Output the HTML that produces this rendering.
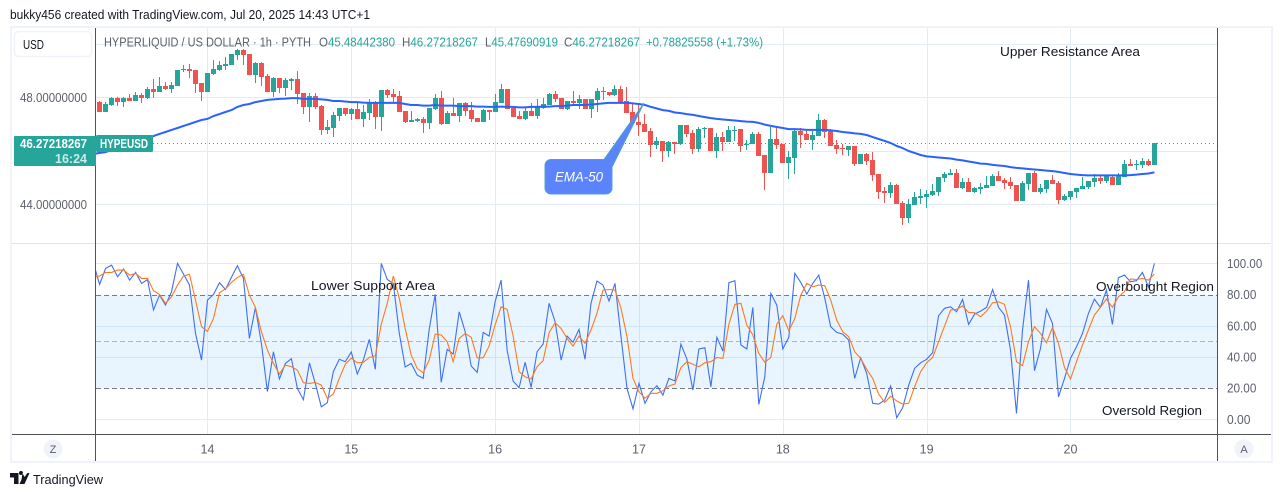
<!DOCTYPE html>
<html lang="en">
<head>
<meta charset="utf-8">
<title>HYPEUSD chart</title>
<style>
html,body{margin:0;padding:0;background:#fff;width:1281px;height:497px;overflow:hidden}
svg{display:block}
text{font-family:"Liberation Sans","DejaVu Sans",sans-serif}
</style>
</head>
<body>
<svg id="chart" xmlns="http://www.w3.org/2000/svg" width="1281" height="497" viewBox="0 0 1281 497">
  <defs>
    <clipPath id="top-clip"><rect x="96" y="28" width="1121" height="215"/></clipPath>
    <clipPath id="bottom-clip"><rect x="96" y="244" width="1121" height="190"/></clipPath>
  </defs>
  <text x="10" y="19" font-size="13" fill="#131722" textLength="360" lengthAdjust="spacingAndGlyphs">bukky456 created with TradingView.com, Jul 20, 2025 14:43 UTC+1</text>
  <rect x="11" y="27" width="1261" height="435" fill="#fff" stroke="#f0f3fa" stroke-width="2"/>
  <g id="grid"></g>
  <rect id="band" fill="#2196f3" fill-opacity="0.1"/>
  <g id="levels"></g>
  <g id="candles" clip-path="url(#top-clip)"></g>
  <path id="ema-line" fill="none" stroke="#2962ff" stroke-width="2" stroke-linejoin="round" clip-path="url(#top-clip)"/>
  <path id="k-line" fill="none" stroke="#3f70f5" stroke-width="1.1" clip-path="url(#bottom-clip)"/>
  <path id="d-line" fill="none" stroke="#ff7a1a" stroke-width="1.1" clip-path="url(#bottom-clip)"/>
  <line id="last-line" x1="153" x2="1217" stroke="#26a69a" stroke-width="1" stroke-dasharray="1 3"/>

  <line x1="12" x2="1271" y1="243.5" y2="243.5" fill="none" stroke="#e0e3eb"/>
  <line x1="12" x2="1271" y1="434.5" y2="434.5" stroke="#50535e"/>
  <line x1="95.5" x2="95.5" y1="28" y2="461" stroke="#50535e"/>
  <line x1="1217.5" x2="1217.5" y1="28" y2="461" stroke="#50535e"/>

  <g id="price-labels"></g>
  <g id="stoch-labels"></g>
  <g id="day-labels"></g>

  <g>
    <rect x="14.5" y="31.5" width="77" height="25" rx="4" fill="#fff" stroke="#f0f3fa" stroke-width="1.5"/>
    <text x="23" y="49" font-size="12.5" fill="#131722" textLength="21" lengthAdjust="spacingAndGlyphs">USD</text>
  </g>

  <g font-size="13">
    <text x="104" y="46.5" fill="#5d606b" textLength="207" lengthAdjust="spacingAndGlyphs">HYPERLIQUID / US DOLLAR · 1h · PYTH</text>
    <text x="319" y="46.5" fill="#5d606b" textLength="76" lengthAdjust="spacingAndGlyphs">O<tspan fill="#26a69a">45.48442380</tspan></text>
    <text x="402" y="46.5" fill="#5d606b" textLength="76" lengthAdjust="spacingAndGlyphs">H<tspan fill="#26a69a">46.27218267</tspan></text>
    <text x="485" y="46.5" fill="#5d606b" textLength="73" lengthAdjust="spacingAndGlyphs">L<tspan fill="#26a69a">45.47690919</tspan></text>
    <text x="564" y="46.5" fill="#5d606b" textLength="76" lengthAdjust="spacingAndGlyphs">C<tspan fill="#26a69a">46.27218267</tspan></text>
    <text x="646" y="46.5" fill="#26a69a" textLength="117" lengthAdjust="spacingAndGlyphs">+0.78825558 (+1.73%)</text>
  </g>

  <g>
    <rect x="14" y="136" width="82" height="30" rx="1" fill="#26a69a"/>
    <text x="87" y="148" font-size="12.5" font-weight="bold" fill="#fff" text-anchor="end" textLength="67" lengthAdjust="spacingAndGlyphs">46.27218267</text>
    <text x="87" y="163" font-size="12.5" font-weight="bold" fill="#c9ece8" text-anchor="end">16:24</text>
  </g>
  <g>
    <rect x="96" y="135" width="57" height="17" rx="1.5" fill="#26a69a"/>
    <text x="100" y="148" font-size="12.5" font-weight="bold" fill="#fff" textLength="48" lengthAdjust="spacingAndGlyphs">HYPEUSD</text>
  </g>

  <g>
    <path d="M551 159.5H604L644 103L612 167V188a6 6 0 0 1-6 6H551a6 6 0 0 1-6-6V165.5a6 6 0 0 1 6-6Z" fill="#5b83fb" stroke="#4ca3c4" stroke-width="1"/>
    <text x="579" y="181.5" font-size="14" font-style="italic" fill="#fff" text-anchor="middle" textLength="48" lengthAdjust="spacingAndGlyphs">EMA-50</text>
  </g>

  <g font-size="13" fill="#131722">
    <text x="1000" y="56" textLength="140" lengthAdjust="spacingAndGlyphs">Upper Resistance Area</text>
    <text x="311" y="290" textLength="124" lengthAdjust="spacingAndGlyphs">Lower Support Area</text>
    <text x="1096" y="291" textLength="118" lengthAdjust="spacingAndGlyphs">Overbought Region</text>
    <text x="1102" y="415" textLength="100" lengthAdjust="spacingAndGlyphs">Oversold Region</text>
  </g>

  <g>
    <circle cx="53" cy="449" r="9.5" fill="#f0f3fa"/>
    <text x="53" y="453" font-size="11" fill="#5d606b" text-anchor="middle">Z</text>
  </g>
  <g>
    <circle cx="1244" cy="449" r="9.5" fill="#f0f3fa"/>
    <text x="1244" y="453" font-size="11" fill="#5d606b" text-anchor="middle">A</text>
  </g>

  <g>
    <path d="M10 473H18.5V484H14V477.5H10ZM22.5 473L24.5 477L27.5 473H29.5L24.5 484H19.5L21.5 479.5ZM19 473a2 2 0 1 0 4 0a2 2 0 1 0-4 0Z" fill="#131722"/>
    <text x="33" y="484" font-size="13" fill="#131722" textLength="70" lengthAdjust="spacingAndGlyphs">TradingView</text>
  </g>
</svg>
<script>
// Candles, one per hour
const opens = [47.81,47.44,47.70,47.96,47.81,47.96,47.85,48.07,47.96,48.30,
48.19,48.41,48.30,48.41,49.01,49.05,49.01,48.52,48.19,48.86,
49.01,49.16,49.20,49.57,49.76,49.61,48.82,49.27,48.79,48.19,
48.71,48.34,48.60,48.67,48.15,47.63,48.04,47.66,46.77,46.84,
47.29,47.59,47.36,47.55,47.18,47.40,47.78,47.25,48.26,48.11,
48.04,47.48,47.07,47.10,47.18,47.03,47.55,47.96,46.99,47.40,
47.29,47.78,47.51,47.21,47.07,47.51,47.44,47.78,48.30,47.59,
47.29,47.18,47.48,47.29,47.59,47.70,48.11,47.96,47.55,47.85,
47.78,47.93,47.55,47.89,48.22,48.19,48.07,48.30,47.85,47.44,
47.07,46.99,46.73,46.21,46.36,45.98,46.32,46.24,46.95,46.65,
46.06,46.80,46.84,45.98,46.50,46.32,46.73,46.80,46.21,46.24,
46.62,45.83,45.16,46.43,46.24,45.53,45.72,46.73,46.62,46.39,
46.54,47.14,46.73,46.21,46.09,46.02,46.17,45.50,45.87,45.64,
45.12,44.49,44.41,44.71,44.04,43.48,43.96,44.22,44.26,44.34,
44.45,44.97,45.08,45.16,44.60,44.82,44.45,44.56,44.60,44.67,
45.05,44.90,44.82,44.71,44.11,44.75,45.16,44.45,44.56,44.90,
44.79,44.15,44.26,44.45,44.56,44.64,44.82,44.97,44.86,45.01,
44.71,45.01,45.50,45.46,45.46,45.61,45.46];
const highs = [47.85,47.81,48.00,48.00,48.00,48.11,48.19,48.15,48.37,48.67,
48.75,48.56,48.56,49.01,49.20,49.23,49.01,48.52,48.90,49.38,
49.35,49.50,49.61,49.79,49.79,49.61,49.31,49.31,48.86,48.75,
48.71,48.71,48.71,48.97,48.15,48.15,48.15,47.70,47.14,47.44,
47.59,47.59,47.59,47.78,47.70,47.93,47.85,48.26,48.30,48.30,
48.22,47.48,47.48,47.21,47.25,47.59,48.11,48.22,47.48,47.96,
47.78,47.81,47.81,47.21,47.55,47.51,48.11,48.49,48.30,47.66,
47.48,47.59,47.78,47.93,47.96,48.15,48.22,47.96,47.85,48.22,
48.07,47.93,47.93,48.34,48.37,48.19,48.45,48.41,48.37,47.78,
47.78,47.36,46.84,46.50,46.36,46.36,46.32,46.95,46.95,46.77,
46.88,46.88,46.84,46.65,46.69,46.92,46.92,46.80,46.39,46.69,
46.69,45.83,46.88,46.84,46.24,45.98,46.77,46.84,46.73,46.73,
47.36,47.18,46.80,46.39,46.24,46.17,46.17,45.87,45.91,45.94,
45.12,44.64,44.82,44.75,44.11,44.19,44.45,44.56,44.52,44.75,
45.01,45.20,45.31,45.31,44.97,44.97,44.64,44.79,45.05,45.12,
45.23,44.97,45.01,44.71,44.86,45.16,45.23,44.75,44.90,45.08,
44.86,44.37,44.49,44.60,45.01,44.86,45.12,45.08,45.08,45.08,
45.16,45.64,45.68,45.64,45.72,45.68,46.27];
const lows = [47.44,47.44,47.66,47.66,47.63,47.85,47.85,47.78,47.93,47.96,
48.19,48.26,48.15,48.41,48.93,48.71,48.15,47.85,48.19,48.82,
48.97,49.01,49.20,49.38,49.20,48.82,48.52,48.41,48.19,48.00,
48.15,48.04,48.26,47.74,47.36,47.07,47.55,46.58,46.62,46.50,
47.10,47.29,47.14,47.18,46.88,47.14,46.80,46.73,47.96,47.81,
47.44,47.03,47.07,47.07,46.65,46.80,47.51,46.95,46.99,47.29,
47.07,47.29,47.07,47.07,47.07,47.14,47.44,47.78,47.55,47.25,
47.18,47.14,47.29,47.18,47.55,47.70,47.81,47.55,47.51,47.74,
47.55,47.55,47.21,47.44,47.89,48.04,48.04,47.81,47.40,47.03,
46.54,46.69,45.76,46.06,45.57,45.76,45.87,46.21,46.50,45.87,
45.94,46.47,45.98,45.72,45.98,46.32,46.36,45.94,46.02,46.24,
45.79,44.52,45.16,46.06,45.53,44.93,45.12,46.09,46.39,46.02,
46.54,46.47,46.17,45.87,45.83,45.79,45.42,45.50,45.46,44.86,
44.19,44.04,44.22,44.00,43.21,43.29,43.96,44.00,43.85,44.30,
44.30,44.82,45.08,44.60,44.56,44.45,44.41,44.37,44.60,44.67,
44.86,44.56,44.56,44.11,44.11,44.52,44.45,44.37,44.41,44.75,
44.00,44.11,44.15,44.22,44.56,44.56,44.64,44.75,44.79,44.71,
44.71,45.01,45.42,45.27,45.35,45.42,45.46];
const closes = [47.44,47.74,47.96,47.81,47.96,47.85,48.07,47.96,48.30,48.19,
48.41,48.30,48.45,49.01,49.05,48.97,48.49,48.19,48.90,49.05,
49.20,49.23,49.61,49.76,49.57,48.82,49.27,48.75,48.19,48.71,
48.34,48.64,48.67,48.11,47.63,48.04,47.63,46.77,46.88,47.33,
47.59,47.36,47.55,47.18,47.44,47.78,47.25,48.26,48.07,48.00,
47.44,47.07,47.14,47.18,47.03,47.59,47.96,46.99,47.40,47.29,
47.78,47.48,47.18,47.07,47.51,47.44,47.81,48.30,47.55,47.25,
47.18,47.48,47.29,47.66,47.74,48.11,47.93,47.55,47.85,47.78,
47.93,47.55,47.93,48.22,48.19,48.07,48.30,47.81,47.40,47.03,
46.95,46.69,46.21,46.36,45.98,46.32,46.24,46.95,46.62,46.06,
46.80,46.84,45.98,46.50,46.32,46.77,46.77,46.17,46.24,46.62,
45.79,45.16,46.43,46.21,45.53,45.76,46.73,46.58,46.39,46.58,
47.14,46.69,46.17,46.06,46.06,46.17,45.50,45.87,45.61,45.08,
44.45,44.41,44.71,44.00,43.48,44.00,44.26,44.30,44.37,44.49,
45.01,45.12,45.16,44.60,44.82,44.45,44.60,44.64,44.71,45.05,
44.86,44.79,44.67,44.11,44.79,45.16,44.45,44.60,44.90,44.75,
44.15,44.30,44.49,44.60,44.67,44.86,44.97,44.86,45.05,44.71,
45.05,45.50,45.42,45.50,45.61,45.46,46.27];

// Line series: the first value belongs to the hour just before the first candle
const ema50 = [45.87,45.91,45.94,46.02,46.06,46.13,46.21,46.28,46.36,46.43,46.54,46.62,46.69,46.77,46.84,46.92,46.99,47.07,47.14,47.18,
47.29,47.36,47.44,47.51,47.63,47.70,47.74,47.81,47.85,47.89,47.91,47.93,47.94,47.96,47.96,47.93,47.93,47.93,47.91,47.89,
47.85,47.85,47.83,47.81,47.81,47.79,47.78,47.78,47.78,47.78,47.78,47.78,47.74,47.70,47.70,47.68,47.68,47.70,47.68,47.68,
47.68,47.66,47.66,47.66,47.64,47.64,47.63,47.63,47.64,47.63,47.63,47.61,47.61,47.63,47.63,47.64,47.64,47.66,47.66,47.68,
47.70,47.70,47.70,47.72,47.74,47.76,47.78,47.78,47.78,47.78,47.76,47.74,47.70,47.63,47.57,47.51,47.48,47.42,47.40,47.36,
47.33,47.29,47.25,47.21,47.18,47.16,47.14,47.12,47.10,47.08,47.07,47.03,46.97,46.92,46.88,46.84,46.80,46.80,46.79,46.77,
46.77,46.77,46.77,46.75,46.73,46.69,46.67,46.64,46.62,46.58,46.50,46.43,46.36,46.28,46.17,46.09,45.98,45.91,45.83,45.78,
45.76,45.74,45.72,45.70,45.66,45.63,45.59,45.55,45.51,45.50,45.46,45.44,45.42,45.38,45.35,45.33,45.31,45.29,45.27,45.25,
45.23,45.20,45.16,45.12,45.10,45.08,45.07,45.07,45.07,45.07,45.07,45.07,45.07,45.08,45.10,45.12,45.14,45.18];
const stochK = [99.8,86.5,96.8,98.9,91.5,96.4,89.3,94.2,87.2,89.7,70.1,79.7,73.3,81.8,100,93.2,86.1,55.1,38.0,76.5,
80.1,87.6,83.3,91.0,98.5,90.4,51.9,71.8,48.7,17.9,43.4,25.9,35.9,38.9,19.9,12.6,36.3,23.1,8.1,10.7,
30.6,38.5,37.0,43.2,29.1,38.0,51.3,32.1,100,89.7,87.2,55.1,33.6,35.9,28.4,26.3,57.7,80.1,23.7,44.9,
41.9,69.0,56.2,34.2,30.1,55.8,53.4,75.4,89.3,44.4,24.6,20.3,36.6,20.5,43.4,48.3,74.4,62.6,38.0,53.4,
49.4,57.7,38.5,74.4,88.7,86.1,75.9,87.2,53.0,19.9,6.8,23.1,10.3,17.7,21.6,15.6,26.3,24.6,48.3,38.7,
18.8,45.1,45.9,20.9,52.6,43.8,87.6,88.9,47.7,45.1,71.8,9.6,27.3,80.8,73.3,45.1,52.6,93.6,87.8,80.3,
87.2,92.5,77.6,59.4,55.8,54.7,50.9,26.3,39.5,29.5,10.3,9.8,12.4,21.4,1.1,7.5,22.0,32.7,36.3,38.5,
42.7,66.5,71.2,72.2,69.0,76.9,60.9,67.5,69.4,71.8,83.3,71.8,66.9,44.4,3.8,57.3,89.3,31.2,45.5,70.5,
61.5,14.5,26.3,39.1,46.6,55.1,67.9,77.1,71.8,82.9,60.9,90.8,92.5,88.3,88.9,94.2,85.0,100];
const stochD = [91.0,91.9,94.2,94.2,95.7,95.7,92.5,93.6,90.4,90.4,82.5,80.1,74.4,78.6,86.1,91.9,93.0,76.5,59.4,56.4,
64.7,81.2,83.6,87.8,91.0,93.0,79.7,71.8,56.2,44.4,35.9,29.1,34.8,33.8,31.6,23.5,23.1,23.7,22.0,13.5,
16.2,26.3,35.3,39.3,36.3,36.6,39.7,40.8,61.1,74.4,91.9,77.6,58.3,41.2,32.7,29.9,38.0,54.7,54.1,49.8,
37.0,51.9,55.1,52.6,39.5,39.5,47.0,60.5,72.2,70.5,53.6,30.6,27.3,25.9,33.8,37.6,55.6,62.0,58.3,51.9,
47.0,53.4,48.7,57.3,68.0,82.9,83.3,82.9,71.2,53.0,26.3,17.7,13.5,16.7,16.7,18.4,21.4,22.7,33.3,37.0,
35.3,33.8,36.3,37.0,39.7,39.1,61.1,73.7,74.4,60.5,54.1,42.3,36.6,39.7,61.1,66.5,56.8,64.7,79.7,87.2,
85.0,86.1,85.7,76.5,63.7,56.2,53.0,43.4,39.1,32.1,26.3,16.2,10.9,14.9,11.8,9.8,10.3,20.9,30.6,36.3,
39.7,49.8,59.8,70.1,70.5,72.7,68.6,68.4,65.8,69.4,74.8,75.4,73.7,59.4,37.0,34.4,49.8,59.4,55.1,49.1,
59.0,48.7,33.3,25.9,37.0,47.7,57.3,66.9,71.8,77.1,71.8,78.6,81.8,90.0,89.7,90.4,89.3,93.2];

// Axis ticks and labels
const priceGridTicks = [50,48,46,44];
const priceTickLabels = ["48.00000000","44.00000000"];
const priceTickValues = [48,44];
const stochTicks = [100,80,60,40,20,0];
const stochTickLabels = ["100.00","80.00","60.00","40.00","20.00","0.00"];
const stochGridTicks = [100,60,40,0];
const dayLabels = ["14","15","16","17","18","19","20"];
const dayCandleIndex = [18,42,66,90,114,138,162];
const lastPrice = 46.27;

// Axis functions
function xAt(i){ return 99.6 + 5.993 * i; }
function yPrice(p){ return 97 + (48 - p) * 26.75; }
function yStoch(v){ return 419.4 - v * 1.56; }

const NS = 'http://www.w3.org/2000/svg';
const GREEN = '#26a69a', RED = '#ef5350', GRID = '#e4ecf3';
function add(parent, tag, attrs){
  const el = document.createElementNS(NS, tag);
  for (const k in attrs) el.setAttribute(k, attrs[k]);
  parent.appendChild(el);
  return el;
}
const grid = document.getElementById('grid');
priceGridTicks.forEach(function(t){
  const y = Math.round(yPrice(t)) + 0.5;
  const el = add(grid, 'line', {x1:96, x2:1217, y1:y, y2:y, stroke:GRID});
  
  
});
stochGridTicks.forEach(function(t){
  const y = Math.round(yStoch(t)) + 0.5;
  const el = add(grid, 'line', {x1:96, x2:1217, y1:y, y2:y, stroke:GRID});
  
  
});
dayCandleIndex.forEach(function(i){
  const x = Math.round(xAt(i)) + 0.5;
  const el = add(grid, 'line', {x1:x, x2:x, y1:28, y2:434, stroke:GRID});
  
  
});

const band = document.getElementById('band');
band.setAttribute('x', 96);
band.setAttribute('width', 1121);
band.setAttribute('y', yStoch(80));
band.setAttribute('height', yStoch(20) - yStoch(80));

const levels = document.getElementById('levels');
[[80,'#787b86'],[50,'#b2b5be'],[20,'#787b86']].forEach(function(l){
  const y = Math.round(yStoch(l[0])) + 0.5;
  const el = add(levels, 'line', {x1:96, x2:1217, y1:y, y2:y, stroke:l[1], 'stroke-dasharray':'5 3'});
  
  
});

const candles = document.getElementById('candles');
opens.forEach(function(o, i){
  const c = closes[i], col = c >= o ? GREEN : RED;
  const x = Math.floor(xAt(i));
  const g = add(candles, 'g', {fill:col});
  
  
  const hy = Math.round(yPrice(highs[i])), ly = Math.round(yPrice(lows[i]));
  const wick = add(g, 'rect', {x:x, y:hy, width:1, height:Math.max(1, ly - hy)});
  
  
  const top = Math.round(yPrice(Math.max(o, c))), bot = Math.round(yPrice(Math.min(o, c)));
  const body = add(g, 'rect', {x:x - 2, y:top, width:5, height:Math.max(1, bot - top)});
  
  
});

function linePath(values, yFn){
  return values.map(function(v, k){
    return (k ? 'L' : 'M') + xAt(k - 1).toFixed(1) + ' ' + yFn(v).toFixed(1);
  }).join('');
}
document.getElementById('ema-line').setAttribute('d', linePath(ema50, yPrice));
document.getElementById('k-line').setAttribute('d', linePath(stochK, yStoch));
document.getElementById('d-line').setAttribute('d', linePath(stochD, yStoch));

const last = document.getElementById('last-line');
last.setAttribute('y1', Math.round(yPrice(lastPrice)) + 0.5);
last.setAttribute('y2', Math.round(yPrice(lastPrice)) + 0.5);

const priceLabels = document.getElementById('price-labels');
priceTickValues.forEach(function(v, k){
  const el = add(priceLabels, 'text', {x:87, y:yPrice(v) + 5, 'font-size':13, fill:'#5d606b', 'text-anchor':'end', textLength:67, lengthAdjust:'spacingAndGlyphs'});
  
  
  el.textContent = priceTickLabels[k];
});
const stochLabels = document.getElementById('stoch-labels');
stochTicks.forEach(function(v, k){
  const label = stochTickLabels[k];
  const el = add(stochLabels, 'text', {x:1227, y:yStoch(v) + 4.5, 'font-size':13, fill:'#5d606b', textLength:label.length * 5.87, lengthAdjust:'spacingAndGlyphs'});
  
  
  el.textContent = label;
});
const dayGroup = document.getElementById('day-labels');
dayLabels.forEach(function(d, k){
  const el = add(dayGroup, 'text', {x:xAt(dayCandleIndex[k]), y:453.5, 'font-size':12.5, fill:'#5d606b', 'text-anchor':'middle'});
  
  
  el.textContent = d;
});
</script>
</body>
</html>
